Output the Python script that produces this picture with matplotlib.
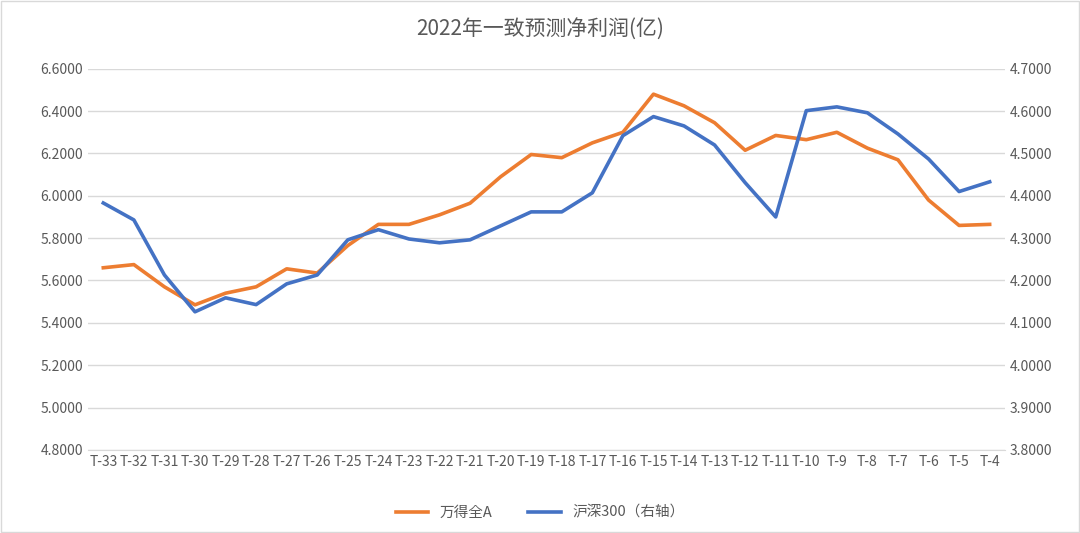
import matplotlib.pyplot as plt
from matplotlib import font_manager

# pick whichever CJK family is actually registered
cjk = [f.name for f in font_manager.fontManager.ttflist if 'CJK' in f.name]
plt.rcParams['font.family'] = (cjk[:1] or ['Noto Sans CJK JP']) + ['DejaVu Sans']

labels = ['T-%d' % i for i in range(33, 3, -1)]
wind_a = [5.66, 5.675, 5.57, 5.485, 5.54, 5.57, 5.655, 5.635, 5.765, 5.865,
          5.865, 5.91, 5.965, 6.09, 6.195, 6.18, 6.25, 6.30, 6.48, 6.425,
          6.345, 6.215, 6.285, 6.265, 6.30, 6.225, 6.17, 5.98, 5.86, 5.865]
hs300 = [4.383, 4.343, 4.213, 4.126, 4.159, 4.143, 4.192, 4.213, 4.296, 4.32,
         4.298, 4.289, 4.296, 4.329, 4.362, 4.362, 4.407, 4.542, 4.587, 4.565,
         4.52, 4.431, 4.35, 4.601, 4.61, 4.596, 4.546, 4.487, 4.41, 4.433]

fig = plt.figure(figsize=(10.8, 5.33), dpi=100)
fig.patches.append(plt.Rectangle((0.001, 0.001), 0.998, 0.998, transform=fig.transFigure,
                                 fill=False, edgecolor='#d9d9d9', lw=1))
ax = fig.add_axes([0.0815, 0.156, 0.849, 0.715])
ax2 = ax.twinx()
x = range(len(labels))

l1, = ax.plot(x, wind_a, color='#ED7D31', lw=2.6, label='万得全A')
l2, = ax2.plot(x, hs300, color='#4472C4', lw=2.6, label='沪深300（右轴）')

ax.set_ylim(4.8, 6.6)
ax2.set_ylim(3.8, 4.7)
ax.set_yticks([4.8 + 0.2 * i for i in range(10)])
ax2.set_yticks([3.8 + 0.1 * i for i in range(10)])
ax.yaxis.set_major_formatter(lambda v, p: '%.4f' % v)
ax2.yaxis.set_major_formatter(lambda v, p: '%.4f' % v)
ax.set_xticks(list(x))
ax.set_xticklabels(labels)
ax.set_xlim(-0.5, len(labels) - 0.5)
ax.grid(axis='y', color='#d9d9d9', lw=1)
for a in (ax, ax2):
    a.tick_params(length=0, labelsize=10, colors='#595959')
    for s in a.spines.values():
        s.set_visible(False)
ax.spines['bottom'].set_visible(True)
ax.spines['bottom'].set_color('#d9d9d9')

fig.suptitle('2022年一致预测净利润(亿)', y=0.965, fontsize=15, color='#595959')
fig.legend(handles=[l1, l2], loc='lower center', ncol=2, frameon=False,
           bbox_to_anchor=(0.5, 0.0), fontsize=10.5, labelcolor='#595959',
           handlelength=2.2, columnspacing=2.5)

fig.savefig('out.png')
